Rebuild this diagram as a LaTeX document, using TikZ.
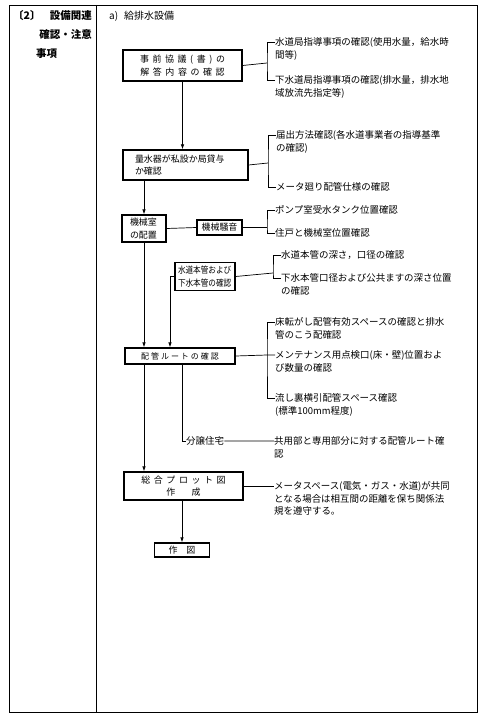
\documentclass[tikz,border=0pt]{standalone}
\usepackage{fontspec}
\setmainfont{Noto Sans CJK JP}
\usetikzlibrary{arrows.meta, positioning}

\begin{document}
\begin{tikzpicture}[
        x=1bp, y=-1bp,
        frame/.style={line width=0.8bp, draw=black},
        box/.style={rectangle, draw=black, line width=1.2bp, inner sep=0pt, align=center, font=\fontsize{9}{12.5}\selectfont},
        spaced/.style={box, font=\fontsize{9}{12.5}\selectfont\addfontfeature{LetterSpace=40}},
        leftbox/.style={box, align=left, inner xsep=#1},
        item/.style={anchor=north west, inner sep=0pt, align=left, font=\fontsize{9.5}{12.5}\selectfont},
        head/.style={anchor=west, inner sep=0pt, font=\fontsize{10.5}{13}\selectfont\bfseries},
        line/.style={line width=0.7bp, draw=black},
        arrow/.style={line, -{Latex[length=5bp, width=3.5bp]}}
    ]
    \useasboundingbox (0,0) rectangle (489,722);

    % Frame
    \draw[frame] (9,5) rectangle (477,712);
    \draw[frame] (96,5) -- (96,712);

    % Headings
    \node[head] (hdnum) at (13,16) {〔2〕};
    \node[head, anchor=east] (hdone) at (92,16) {設備関連};
    \node[head, anchor=east] (hdtwo) at (92,35) {確認・注意};
    \node[head] (hdthree) at (36,54) {事項};
    \node[head, font=\fontsize{10}{13}\selectfont] (title) at (109,16) {a)\hspace{6bp}給排水設備};

    % Boxes
    \node[spaced, minimum width=119bp, minimum height=31bp] (plan) at (182.5,65.5) {事前協議(書)の\\解答内容の確認};
    \node[leftbox=12bp, text width=101bp, minimum height=30bp] (meter) at (185.5,165) {量水器が私設か局貸与\\か確認};
    \node[leftbox=8bp, text width=28bp, minimum height=27bp] (mroom) at (144,228.5) {機械室\\の配置};
    \node[box, minimum width=45bp, minimum height=15bp] (noise) at (219.5,227.5) {機械騒音};
    \node[leftbox=3bp, text width=54bp, minimum height=28bp] (mains) at (205,276.5) {\scalebox{0.85}[1]{水道本管および}\\\scalebox{0.85}[1]{下水本管の確認}};
    \node[spaced, font=\fontsize{8}{10}\selectfont\addfontfeature{LetterSpace=25}, minimum width=110bp, minimum height=16bp] (route) at (180,356) {配管ルートの確認};
    \node[spaced, minimum width=119bp, minimum height=28bp] (plot) at (183.5,486) {総合プロット図\\作　成};
    \node[box, minimum width=55bp, minimum height=14bp] (drawing) at (182,550) {作　図};
    \node[item, anchor=west] (condo) at (186,441) {分譲住宅};

    % Notes
    \node[item] (planA) at (275,37.5) {水道局指導事項の確認(使用水量，給水時\\間等)};
    \node[item] (planB) at (275,75.5) {下水道局指導事項の確認(排水量，排水地\\域放流先指定等)};
    \node[item] (meterA) at (276,130.5) {届出方法確認(各水道事業者の指導基準\\の確認)};
    \node[item] (meterB) at (276,182.5) {メータ廻り配管仕様の確認};
    \node[item] (mroomA) at (275,205.5) {ポンプ室受水タンク位置確認};
    \node[item] (mroomB) at (275,228.5) {住戸と機械室位置確認};
    \node[item] (mainsA) at (281,250.5) {水道本管の深さ，口径の確認};
    \node[item] (mainsB) at (281,273.5) {下水本管口径および公共ますの深さ位置\\の確認};
    \node[item] (routeA) at (275,317.5) {床転がし配管有効スペースの確認と排水\\管のこう配確認};
    \node[item] (routeB) at (275,350.5) {メンテナンス用点検口(床・壁)位置およ\\び数量の確認};
    \node[item] (routeC) at (275,393.5) {流し裏横引配管スペース確認\\(標準100mm程度)};
    \node[item] (condoA) at (274,436.5) {共用部と専用部分に対する配管ルート確\\認};
    \node[item] (plotA) at (274,481.5) {メータスペース(電気・ガス・水道)が共同\\となる場合は相互間の距離を保ち関係法\\規を遵守する。};

    % Joints
    \coordinate (planJ) at (267,63);
    \coordinate (meterJ) at (268,163);
    \coordinate (mroomJ) at (267,227.5);
    \coordinate (mainsJ) at (273,273);
    \coordinate (routeJ) at (267,355);

    % Flow
    \draw[arrow] (plan.south) -- (plan.south |- meter.north);
    \draw[arrow] (mroom.north |- meter.south) -- (mroom.north);
    \draw[arrow] (mroom.south) -- (mroom.south |- route.north);
    \draw[arrow] (mains.west) -| ([xshift=-10bp]route.north);
    \draw[arrow] (mroom.south |- route.south) -- (mroom.south |- plot.north);
    \draw[line] ([xshift=2bp]route.south) |- (condo.west);
    \draw[line] (condo.east) -- ([yshift=-4.5bp]condoA.north west);
    \draw[arrow] (drawing.north |- plot.south) -- (drawing.north);
    \draw[line] (mroom.east) -- (noise.west);

    % Brackets
    \draw[line] (plan.east) -- (planJ);
    \draw[line] ([yshift=-4.5bp]planA.north west) -| (planJ) |- ([yshift=-4.5bp]planB.north west);
    \draw[line] (meter.east) -- (meterJ);
    \draw[line] ([yshift=-4.5bp]meterA.north west) -| (meterJ) |- ([yshift=-4.5bp]meterB.north west);
    \draw[line] (noise.east) -- (mroomJ);
    \draw[line] ([yshift=-4.5bp]mroomA.north west) -| (mroomJ) |- ([yshift=-4.5bp]mroomB.north west);
    \draw[line] (mains.east) -- (mainsJ);
    \draw[line] ([yshift=-4.5bp]mainsA.north west) -| (mainsJ) |- ([yshift=-4.5bp]mainsB.north west);
    \draw[line] (route.east) -- (routeJ);
    \draw[line] ([yshift=-4.5bp]routeA.north west) -| (routeJ) |- ([yshift=-4.5bp]routeC.north west);
    \draw[line] (routeJ) -- ([yshift=-4.5bp]routeB.north west);
    \draw[line] (plot.east) -- (plot.east -| plotA.west);

\end{tikzpicture}
\end{document}
